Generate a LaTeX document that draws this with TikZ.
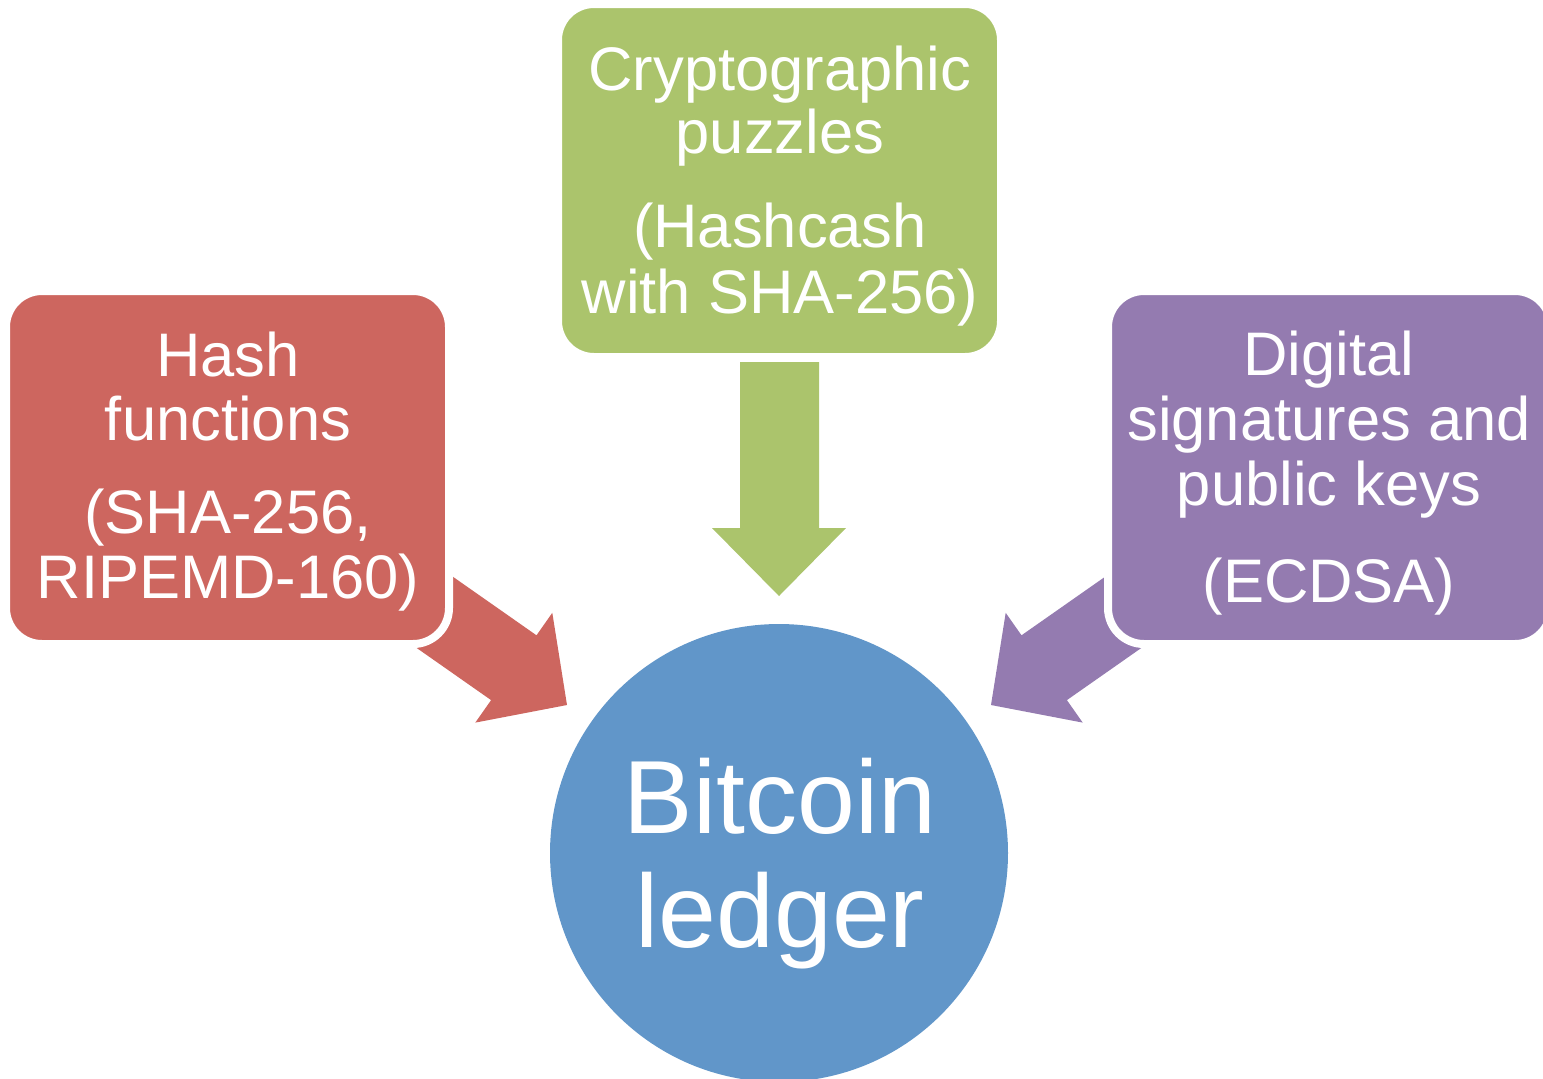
\documentclass[tikz,border=0pt]{standalone}
\usepackage{fontspec}
\setmainfont{Liberation Sans}
\definecolor{cred}{RGB}{205,102,95}
\definecolor{cgreen}{RGB}{171,196,108}
\definecolor{cpurple}{RGB}{148,123,176}
\definecolor{cblue}{RGB}{97,150,201}
\tikzset{
  box/.style={rectangle, rounded corners=18pt, draw=white, line width=4pt,
    minimum width=221.5pt, minimum height=176.5pt, inner sep=0pt},
  txt/.style={text=white, anchor=base, inner sep=0pt,
    font=\fontsize{30.75}{32}\selectfont},
  bigtxt/.style={text=white, anchor=base, inner sep=0pt,
    font=\fontsize{52}{56}\selectfont},
  blockarrow/.style={draw=none}
}
\begin{document}
\begin{tikzpicture}[x=0.5pt,y=-0.5pt]
\useasboundingbox (0,0) rectangle (1543,1078);
\clip (0,0) rectangle (1543,1078);
% block arrows
\fill[cred] (430,560.7) -- (536.5,635.3) -- (552.3,612.8) -- (567,705) -- (475.3,722.6) -- (491.1,700.1) -- (384.6,625.5) -- cycle;
\fill[cpurple] (1128,560.7) -- (1021.5,635.3) -- (1005.7,612.8) -- (991,705) -- (1082.7,722.6) -- (1066.9,700.1) -- (1173.4,625.5) -- cycle;
\fill[cgreen] (740,362) -- (819,362) -- (819,528) -- (846,528) -- (779,596) -- (712,528) -- (740,528) -- cycle;
% boxes
\node[box, fill=cred] (hashbox) at (227.5,467.5) {};
\node[box, fill=cgreen] (puzzbox) at (779.5,180.5) {};
\node[box, fill=cpurple] (sigbox) at (1329.5,467.5) {};
\node[circle, fill=cblue, draw=none, minimum size=229pt, inner sep=0pt] (ledger) at (779,853) {};
% texts
\node[txt] (h1) at (228,376) {Hash};
\node[txt] (h2) at (228,440) {functions};
\node[txt] (h3) at (228,533) {(SHA-256,};
\node[txt] (h4) at (228,598) {RIPEMD-160)};
\node[txt] (p1) at (780,90) {Cryptographic};
\node[txt] (p2) at (780,153) {puzzles};
\node[txt] (p3) at (780,247) {(Hashcash};
\node[txt] (p4) at (780,313) {with SHA-256)};
\node[txt] (s1) at (1329,375) {Digital};
\node[txt] (s2) at (1329,440) {signatures and};
\node[txt] (s3) at (1329,505) {public keys};
\node[txt] (s4) at (1329,602) {(ECDSA)};
\node[bigtxt] (l1) at (780,833) {Bitcoin};
\node[bigtxt] (l2) at (780,947) {ledger};
\end{tikzpicture}
\end{document}
